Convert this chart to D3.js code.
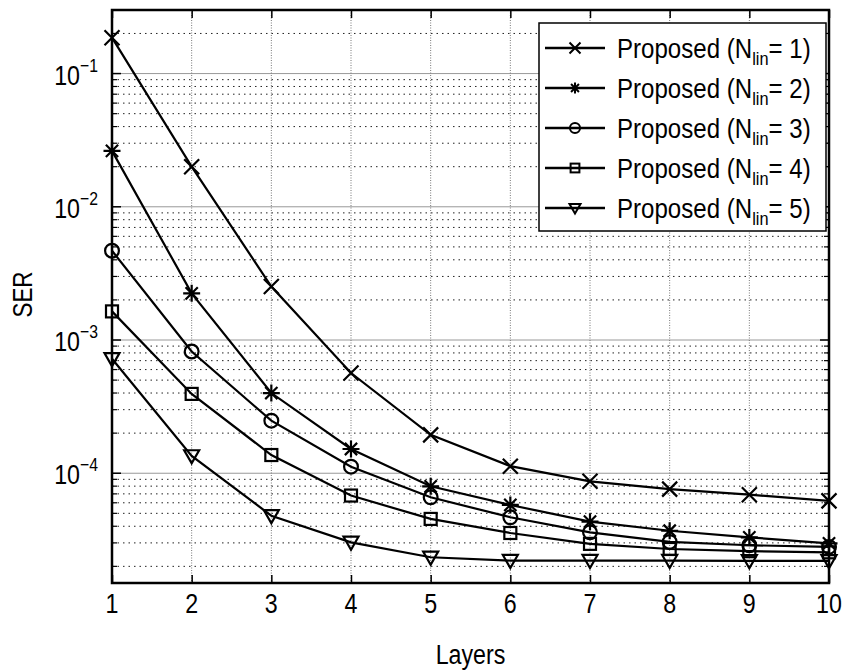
<!DOCTYPE html>
<html>
<head>
<meta charset="utf-8">
<script src="https://cdn.jsdelivr.net/npm/d3@7"></script>
<style>
  body { margin: 0; background: #fff; }
  svg { display: block; font-family: "Liberation Sans", Arial, sans-serif; }
</style>
</head>
<body>
<div id="chart"></div>
<script>
'use strict';

// data
const layers = [1, 2, 3, 4, 5, 6, 7, 8, 9, 10];
const serN1 = [0.186, 0.020, 0.00252, 5.65e-4, 1.94e-4, 1.13e-4, 8.7e-5, 7.6e-5, 6.9e-5, 6.2e-5];
const serN2 = [0.0263, 0.00224, 4.0e-4, 1.52e-4, 7.98e-5, 5.78e-5, 4.33e-5, 3.7e-5, 3.3e-5, 2.98e-5];
const serN3 = [0.00468, 8.2e-4, 2.48e-4, 1.12e-4, 6.6e-5, 4.67e-5, 3.6e-5, 3.05e-5, 2.88e-5, 2.8e-5];
const serN4 = [0.00164, 3.94e-4, 1.37e-4, 6.8e-5, 4.54e-5, 3.56e-5, 2.95e-5, 2.7e-5, 2.6e-5, 2.55e-5];
const serN5 = [7.24e-4, 1.35e-4, 4.8e-5, 3.03e-5, 2.34e-5, 2.21e-5, 2.21e-5, 2.21e-5, 2.2e-5, 2.2e-5];
const seriesNames = ['1', '2', '3', '4', '5'];
const markerKinds = ['x', 'star', 'circle', 'square', 'triangle'];
const yDecades = [1e-4, 1e-3, 1e-2, 1e-1];
const yDomain = [1.5e-5, 0.3];

const width = 845, height = 671;
const margin = {top: 10, right: 16, bottom: 88, left: 112};
const w = width - margin.left - margin.right;
const h = height - margin.top - margin.bottom;
const squeeze = 0.83; // the original font is a narrow sans

const svg = d3.select('#chart').append('svg')
  .attr('width', width)
  .attr('height', height);
const g = svg.append('g').attr('transform', `translate(${margin.left},${margin.top})`);

const x = d3.scaleLinear().domain([1, 10]).range([0, w]);
const y = d3.scaleLog().domain(yDomain).range([h, 0]);

// minor values for the log grid
const minorVals = [];
for (let e = -5; e <= -1; e++) {
  for (let m = 2; m <= 9; m++) {
    const v = m * Math.pow(10, e);
    if (v > yDomain[0] && v < yDomain[1]) minorVals.push(v);
  }
}

// grid
const $grid = g.append('g');
$grid.selectAll('.ymin').data(minorVals).enter().append('line')
  .attr('x1', 0).attr('x2', w)
  .attr('y1', (d) => y(d)).attr('y2', (d) => y(d))
  .attr('stroke', '#222').attr('stroke-width', 1)
  .attr('stroke-dasharray', '1.5,4');
$grid.selectAll('.ymaj').data(yDecades).enter().append('line')
  .attr('x1', 0).attr('x2', w)
  .attr('y1', (d) => y(d)).attr('y2', (d) => y(d))
  .attr('stroke', '#999').attr('stroke-width', 1);
$grid.selectAll('.xg').data(layers.slice(1, -1)).enter().append('line')
  .attr('x1', (d) => x(d)).attr('x2', (d) => x(d))
  .attr('y1', 0).attr('y2', h)
  .attr('stroke', '#777').attr('stroke-width', 1)
  .attr('stroke-dasharray', '1,1.5');

// axes: x ticks inward, bottom and top
g.append('g')
  .attr('transform', `translate(0,${h})`)
  .call(d3.axisBottom(x).tickValues(layers).tickSizeInner(-8).tickSizeOuter(0).tickFormat(''))
  .call((s) => s.select('.domain').remove())
  .call((s) => s.selectAll('line').attr('stroke-width', 1.5));
g.append('g')
  .call(d3.axisTop(x).tickValues(layers).tickSizeInner(-8).tickSizeOuter(0).tickFormat(''))
  .call((s) => s.select('.domain').remove())
  .call((s) => s.selectAll('line').attr('stroke-width', 1.5));
g.append('g').selectAll('text').data(layers).enter().append('text')
  .attr('transform', (d) => `translate(${x(d)},${h + 30}) scale(${squeeze},1)`)
  .attr('text-anchor', 'middle')
  .attr('font-size', 28)
  .text((d) => d);

// y ticks on both sides
[0, w].forEach((sx) => {
  const dir = sx === 0 ? 1 : -1;
  g.append('g').selectAll('line').data(minorVals).enter().append('line')
    .attr('x1', sx).attr('x2', sx + dir * 5)
    .attr('y1', (d) => y(d)).attr('y2', (d) => y(d))
    .attr('stroke', '#000').attr('stroke-width', 1.2);
  g.append('g').selectAll('line').data(yDecades).enter().append('line')
    .attr('x1', sx).attr('x2', sx + dir * 9)
    .attr('y1', (d) => y(d)).attr('y2', (d) => y(d))
    .attr('stroke', '#000').attr('stroke-width', 1.5);
});

// y tick labels 10^n
const $ylab = g.append('g').selectAll('text').data(yDecades).enter().append('text')
  .attr('transform', (d) => `translate(-14,${y(d) + 11}) scale(${squeeze},1)`)
  .attr('text-anchor', 'end')
  .attr('font-size', 28);
$ylab.append('tspan').text('10');
$ylab.append('tspan')
  .attr('font-size', 19)
  .attr('dy', -13)
  .text((d) => '\u2212' + Math.round(-Math.log10(d)));

// box
g.append('rect')
  .attr('width', w).attr('height', h)
  .attr('fill', 'none').attr('stroke', '#000').attr('stroke-width', 2.5);

// markers
const drawMarker = (sel, kind, s) => {
  const r = s / 2;
  if (kind === 'x') {
    sel.append('path').attr('d', `M${-r},${-r}L${r},${r}M${-r},${r}L${r},${-r}`);
  } else if (kind === 'star') {
    const q = r * 0.72;
    sel.append('path').attr('d', `M${-r},0L${r},0M0,${-r}L0,${r}M${-q},${-q}L${q},${q}M${-q},${q}L${q},${-q}`);
  } else if (kind === 'circle') {
    sel.append('circle').attr('r', r * 0.92).attr('fill', 'none');
  } else if (kind === 'square') {
    sel.append('rect').attr('x', -r * 0.8).attr('y', -r * 0.8)
      .attr('width', r * 1.6).attr('height', r * 1.6).attr('fill', 'none');
  } else {
    sel.append('path').attr('d', `M${-r},${-r * 0.75}L${r},${-r * 0.75}L0,${r}Z`).attr('fill', 'none');
  }
};

const allSeries = [serN1, serN2, serN3, serN4, serN5];
const line = d3.line().x((d, i) => x(layers[i])).y((d) => y(d));

allSeries.forEach((vals, k) => {
  g.append('path')
    .datum(vals)
    .attr('d', line)
    .attr('fill', 'none')
    .attr('stroke', '#000')
    .attr('stroke-width', 2.2);
  g.append('g').selectAll('g').data(vals).enter().append('g')
    .attr('transform', (d, i) => `translate(${x(layers[i])},${y(d)})`)
    .attr('stroke', '#000').attr('stroke-width', 2.2)
    .each(function () { drawMarker(d3.select(this), markerKinds[k], k === 1 ? 17 : 15); });
});

// axis titles
svg.append('text')
  .attr('transform', `translate(${margin.left + w / 2},664) scale(${squeeze},1)`)
  .attr('text-anchor', 'middle')
  .attr('font-size', 28)
  .text('Layers');
svg.append('text')
  .attr('transform', `translate(32,${margin.top + h / 2 - 2}) rotate(-90) scale(0.8,1)`)
  .attr('text-anchor', 'middle')
  .attr('font-size', 28)
  .text('SER');

// legend
const lg = svg.append('g').attr('transform', 'translate(539,23)');
lg.append('rect')
  .attr('width', 287).attr('height', 208)
  .attr('fill', '#fff').attr('stroke', '#000').attr('stroke-width', 1.5);
seriesNames.forEach((name, k) => {
  const ly = 25 + k * 40;
  lg.append('line')
    .attr('x1', 6).attr('x2', 66).attr('y1', ly).attr('y2', ly)
    .attr('stroke', '#000').attr('stroke-width', 2.5);
  const m = lg.append('g')
    .attr('transform', `translate(36,${ly})`)
    .attr('stroke', '#000').attr('stroke-width', 2);
  drawMarker(m, markerKinds[k], 11);
  const t = lg.append('text')
    .attr('transform', `translate(78,${ly + 10}) scale(0.86,1)`)
    .attr('font-size', 28);
  t.append('tspan').text('Proposed (N');
  t.append('tspan').attr('font-size', 19).attr('dy', 7).text('lin');
  t.append('tspan').attr('dy', -7).text('= ' + name + ')');
});
</script>
</body>
</html>
